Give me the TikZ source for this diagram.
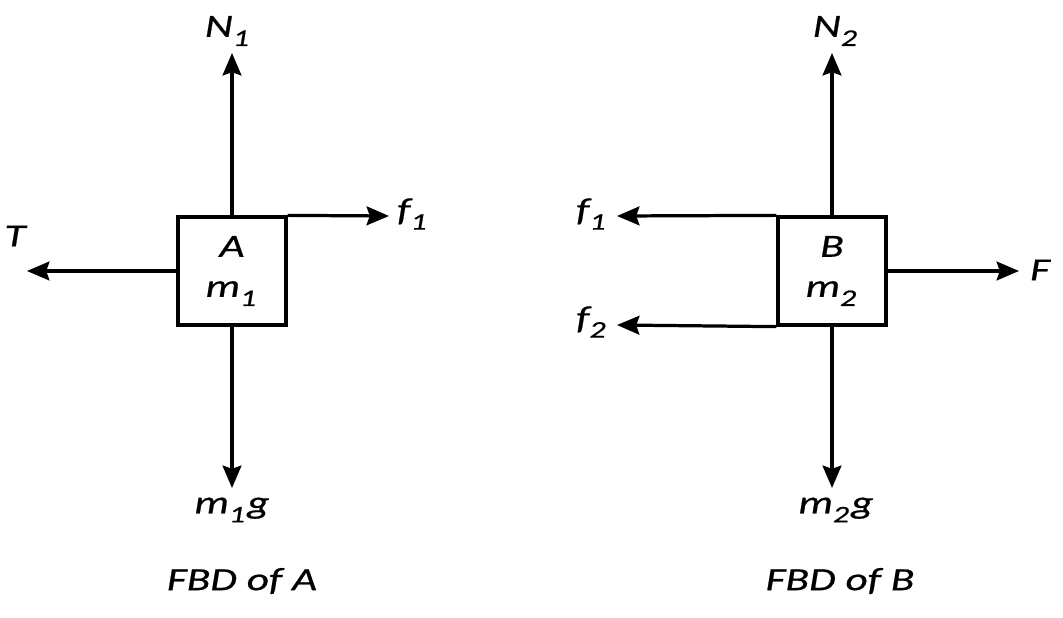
\documentclass[tikz,border=0pt]{standalone}
\usepackage{fontspec}
\setmainfont[FakeStretch=1.34,FakeBold=0.6]{Carlito}
\usetikzlibrary{arrows.meta}
\newcommand{\sub}[2]{\textit{#1}\raisebox{-6.5pt}{\fontsize{17}{17}\selectfont\textit{#2}}\kern1.5pt}
\tikzset{
  force/.style={-{Stealth[length=0.56cm,width=0.47cm,inset=0.08cm]},line width=2.3pt},
  body/.style={draw,line width=2.3pt,minimum width=2.7cm,minimum height=2.7cm,
    align=center,font=\fontsize{23}{28.5}\selectfont\itshape},
  lbl/.style={font=\fontsize{23}{28}\selectfont\itshape,inner sep=0pt}
}
\begin{document}
\begin{tikzpicture}[x=0.025cm,y=-0.025cm]
  \useasboundingbox (0,0) rectangle (1063,617);

  % block A
  \node (A) at (232,271) [body] {A\\ \sub{m}{1}};
  \coordinate (tipNA) at (232,53);
  \coordinate (tipWA) at (232,488);
  \coordinate (tipT)  at (27,271);
  \coordinate (tipfA) at (389,216);

  \draw[force] (A.north) -- (tipNA);
  \draw[force] (A.south) -- (tipWA);
  \draw[force] (A.west) -- (tipT);
  \draw[force] (A.north east) -- (tipfA);

  \node (NA) at (228,31) [lbl] {\sub{N}{1}};
  \node (WA) at (232,510) [lbl] {\sub{m}{1}\textit{g}};
  \node (T)  at (15,236) [lbl] {T};
  \node (fA) at (413,214) [lbl] {\sub{f}{1}};
  \node (capA) at (242,581) [lbl] {FBD of A};

  % block B
  \node (B) at (832,271) [body] {B\\ \sub{m}{2}};
  \coordinate (tipNB) at (832,53);
  \coordinate (tipWB) at (832,488);
  \coordinate (tipF)  at (1019,271);
  \coordinate (tipf1) at (617,216);
  \coordinate (tipf2) at (617,325);

  \draw[force] (B.north) -- (tipNB);
  \draw[force] (B.south) -- (tipWB);
  \draw[force] (B.east) -- (tipF);
  \draw[force] (B.north west) -- (tipf1);
  \draw[force] (B.south west) -- (tipf2);

  \node (NB) at (836,31) [lbl] {\sub{N}{2}};
  \node (WB) at (836,510) [lbl] {\sub{m}{2}\textit{g}};
  \node (F)  at (1040,270) [lbl] {F};
  \node (f1) at (592,214) [lbl] {\sub{f}{1}};
  \node (f2) at (592,322) [lbl] {\sub{f}{2}};
  \node (capB) at (840,581) [lbl] {FBD of B};
\end{tikzpicture}
\end{document}
